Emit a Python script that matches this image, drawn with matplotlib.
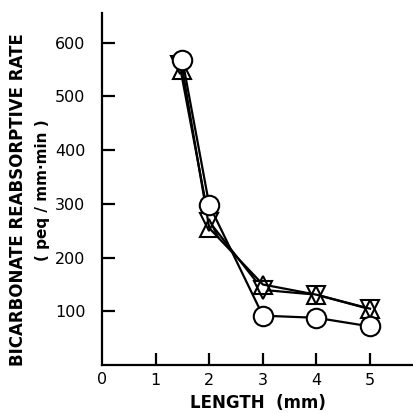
import matplotlib
matplotlib.use("Agg")
import matplotlib.pyplot as plt

# ===================== data =====================
x_circle = [1.5, 2, 3, 4, 5]
y_circle = [568, 298, 92, 88, 72]

x_up = [1.5, 2, 3, 4, 5]
y_up = [550, 255, 150, 131, 105]

x_down = [1.45, 2, 3, 4, 5]
y_down = [558, 267, 140, 131, 104]

xticks = [1, 2, 3, 4, 5]
yticks = [100, 200, 300, 400, 500, 600]

# ===================== plot =====================
fig = plt.figure(figsize=(4.13, 4.13), dpi=100)
ax = fig.add_axes([0.247, 0.116, 0.753, 0.852])

lw = 1.6
ax.plot(x_down, y_down, color="black", lw=lw, marker="v", ms=13,
        mfc="white", mec="black", mew=1.5, zorder=3)
ax.plot(x_up, y_up, color="black", lw=lw, marker="^", ms=13,
        mfc="none", mec="black", mew=1.5, zorder=4)
ax.plot(x_circle, y_circle, color="black", lw=lw, marker="o", ms=14,
        mfc="white", mec="black", mew=1.5, zorder=5)

ax.set_xlim(0, 5.8)
ax.set_ylim(0, 655)
ax.set_xticks(xticks)
ax.set_yticks(yticks)
ax.tick_params(direction="in", length=9, width=1.6, labelsize=11.5)
ax.tick_params(axis="y", pad=12)
ax.tick_params(axis="x", pad=6)

for s in ["top", "right"]:
    ax.spines[s].set_visible(False)
for s in ["left", "bottom"]:
    ax.spines[s].set_linewidth(1.6)

# "0" at origin
ax.text(0, -0.021, "0", transform=ax.get_xaxis_transform(), ha="center",
        va="top", fontsize=11.5)

ax.set_xlabel("LENGTH  (mm)", fontsize=12, fontweight="bold", labelpad=4)

fig.text(0.044, 0.518, "BICARBONATE REABSORPTIVE RATE", rotation=90,
         ha="center", va="center", fontsize=12, fontweight="bold")
fig.text(0.104, 0.54, "( peq / mm·min )", rotation=90,
         ha="center", va="center", fontsize=11, fontweight="bold")

fig.savefig("out.png", dpi=100)
